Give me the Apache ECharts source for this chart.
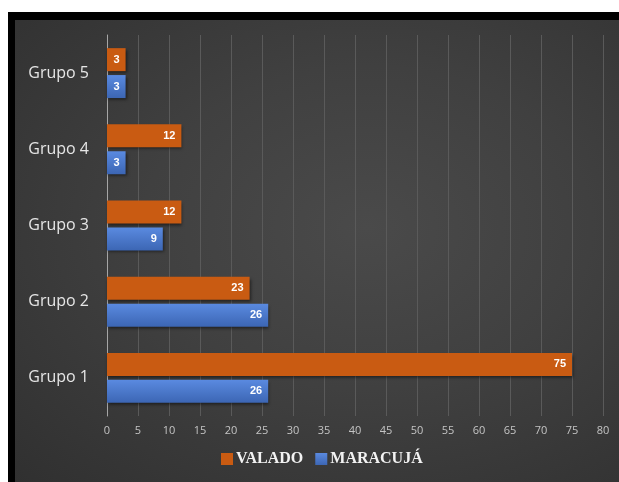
<!DOCTYPE html>
<html>
<head>
<meta charset="utf-8">
<script src="https://cdn.jsdelivr.net/npm/echarts@6/dist/echarts.min.js"></script>
<style>
html,body{margin:0;padding:0;background:#fff;width:619px;height:482px;overflow:hidden;}
#frame{position:absolute;left:8px;top:12px;width:640px;height:462px;border-left:7px solid #000;border-top:8px solid #000;border-bottom:6px solid #000;
background:radial-gradient(ellipse at 55% 45%, #4a4a4a 0%, #404040 45%, #303030 100%);}
#chart{position:absolute;left:0;top:0;width:619px;height:482px;}
</style>
</head>
<body>
<div id="frame"></div>
<div id="chart"></div>
<script>
const categories = ['Grupo 1', 'Grupo 2', 'Grupo 3', 'Grupo 4', 'Grupo 5'];
const valado = [75, 23, 12, 12, 3];
const maracuja = [26, 26, 9, 3, 3];
const xTicks = { min: 0, max: 80, interval: 5 };

const chart = echarts.init(document.getElementById('chart'), null, { renderer: 'canvas' });
const labelStyle = {
  show: true, position: 'insideRight', distance: 6,
  color: '#ffffff', fontWeight: 'bold', fontSize: 11, fontFamily: 'Liberation Sans'
};
chart.setOption({
  backgroundColor: 'transparent',
  animation: false,
  grid: { left: 107, right: 16, top: 35, bottom: 66, containLabel: false },
  legend: {
    data: ['VALADO', 'MARACUJÁ'],
    bottom: 10, left: 216,
    itemWidth: 12, itemHeight: 12, itemGap: 12,
    icon: 'rect',
    textStyle: { color: '#f2f2f2', fontFamily: 'Liberation Serif', fontWeight: 'bold', fontSize: 16, padding: [0, 0, 0, -2] }
  },
  xAxis: {
    type: 'value', min: xTicks.min, max: xTicks.max, interval: xTicks.interval,
    axisLine: { show: false }, axisTick: { show: false },
    splitLine: { show: true, lineStyle: { color: '#5a5a5a', width: 1 } },
    axisLabel: { color: '#c4c4c4', fontSize: 11, fontFamily: 'Open Sans', margin: 9 }
  },
  yAxis: {
    type: 'category', data: categories,
    axisLine: { show: true, lineStyle: { color: '#a6a6a6', width: 1 } },
    axisTick: { show: false },
    axisLabel: { color: '#e6e6e6', fontSize: 16, fontFamily: 'Open Sans', margin: 18 }
  },
  series: [
    {
      name: 'VALADO', type: 'bar', data: valado, barWidth: 23, barGap: '17%',
      itemStyle: {
        color: '#c95b12',
        shadowBlur: 3, shadowOffsetX: 1, shadowOffsetY: 2, shadowColor: 'rgba(0,0,0,0.5)'
      },
      label: labelStyle
    },
    {
      name: 'MARACUJÁ', type: 'bar', data: maracuja, barWidth: 23, barGap: '17%',
      itemStyle: {
        color: new echarts.graphic.LinearGradient(0, 0, 0, 1, [
          { offset: 0, color: '#5a8ae0' }, { offset: 1, color: '#3c66b4' }
        ]),
        shadowBlur: 3, shadowOffsetX: 1, shadowOffsetY: 2, shadowColor: 'rgba(0,0,0,0.5)'
      },
      label: labelStyle
    }
  ]
});
</script>
</body>
</html>
